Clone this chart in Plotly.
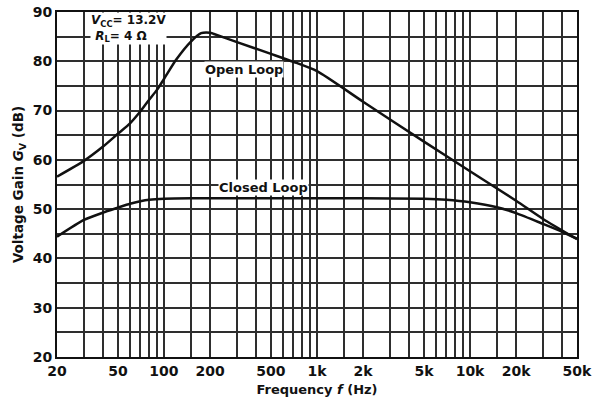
import math
import plotly.graph_objects as go

# ---- data ----
open_freq = [20, 30, 40, 50, 60, 70, 80, 90, 100, 120, 150, 175, 200, 210, 300, 500, 700, 1000, 2000, 5000, 10000, 20000, 30000, 50000]
open_gain = [56.6, 59.8, 62.7, 65.3, 67.4, 69.8, 72.2, 74.2, 76.4, 80.3, 84.0, 85.7, 85.8, 85.6, 83.9, 81.5, 79.9, 78.0, 71.8, 63.7, 57.7, 51.7, 48.0, 43.9]

closed_freq = [20, 30, 40, 50, 60, 70, 80, 100, 150, 500, 2000, 5000, 7000, 10000, 15000, 20000, 30000, 40000, 50000]
closed_gain = [44.4, 47.8, 49.3, 50.3, 51.1, 51.6, 51.9, 52.1, 52.2, 52.2, 52.2, 52.1, 51.9, 51.4, 50.4, 49.2, 47.0, 45.4, 44.0]

x_major = [20, 50, 100, 200, 500, 1000, 2000, 5000, 10000, 20000, 50000]
x_major_text = ["20", "50", "100", "200", "500", "1k", "2k", "5k", "10k", "20k", "50k"]
x_minor = [30, 40, 60, 70, 80, 90, 150, 300, 400, 600, 700, 800, 900,
           1500, 3000, 4000, 6000, 7000, 8000, 9000, 15000, 30000, 40000]
y_major = [20, 30, 40, 50, 60, 70, 80, 90]
y_minor = [25, 35, 45, 55, 65, 75, 85]

FONT = "DejaVu Sans"
GRID = "#2e2e2e"

fig = go.Figure()
fig.add_trace(go.Scatter(x=open_freq, y=open_gain, mode="lines",
                         line=dict(color="#111", width=2.5, shape="spline", smoothing=0.6),
                         hoverinfo="skip", showlegend=False))
fig.add_trace(go.Scatter(x=closed_freq, y=closed_gain, mode="lines",
                         line=dict(color="#111", width=2.5, shape="spline", smoothing=0.6),
                         hoverinfo="skip", showlegend=False))

fig.update_layout(
    width=603, height=401,
    margin=dict(l=57, r=26, t=12, b=44),
    paper_bgcolor="white", plot_bgcolor="white",
    font=dict(family=FONT, color="#111"),
    xaxis=dict(
        type="log", range=[math.log10(20), math.log10(50000)],
        tickmode="array", tickvals=x_major, ticktext=x_major_text,
        tickfont=dict(size=14, weight="bold", family=FONT),
        ticklabeloverflow="allow",
        showgrid=True, gridcolor=GRID, gridwidth=1.6,
        minor=dict(tickmode="array", tickvals=x_minor, showgrid=True, gridcolor=GRID, gridwidth=1.6),
        showline=True, linecolor="#111", linewidth=2, mirror=True,
        ticks="", zeroline=False, automargin=False,
        title=dict(text="<b>Frequency <i>f</i> (Hz)</b>", font=dict(size=13, family=FONT), standoff=7),
    ),
    yaxis=dict(
        range=[20, 90],
        tickmode="array", tickvals=y_major,
        tickfont=dict(size=14, weight="bold", family=FONT),
        ticklabeloverflow="allow",
        showgrid=True, gridcolor=GRID, gridwidth=1.6,
        minor=dict(tickmode="array", tickvals=y_minor, showgrid=True, gridcolor=GRID, gridwidth=1.6),
        showline=True, linecolor="#111", linewidth=2, mirror=True,
        ticks="", zeroline=False, automargin=False,
        title=dict(text="<b>Voltage Gain <i>G</i><sub>V</sub> (dB)</b>", font=dict(size=13.5, family=FONT), standoff=6),
    ),
)

def label(text, f, g, size=13, xanchor="center", align="center"):
    fig.add_annotation(x=math.log10(f), y=g, xref="x", yref="y", text=text, showarrow=False,
                       xanchor=xanchor, align=align,
                       font=dict(size=size, family=FONT, color="#111", weight="bold"),
                       bgcolor="white", borderpad=0)

label("Open Loop", 333, 78.4)
label("Closed Loop", 444, 54.4)
label("<i>V</i><sub>CC</sub>= 13.2V<br> <i>R</i><sub>L</sub>= 4 Ω", 32.9, 86.6, size=12, xanchor="left", align="left")

fig.write_html("out.html", config={"displayModeBar": False},
               post_script="document.body.style.margin='0';")
